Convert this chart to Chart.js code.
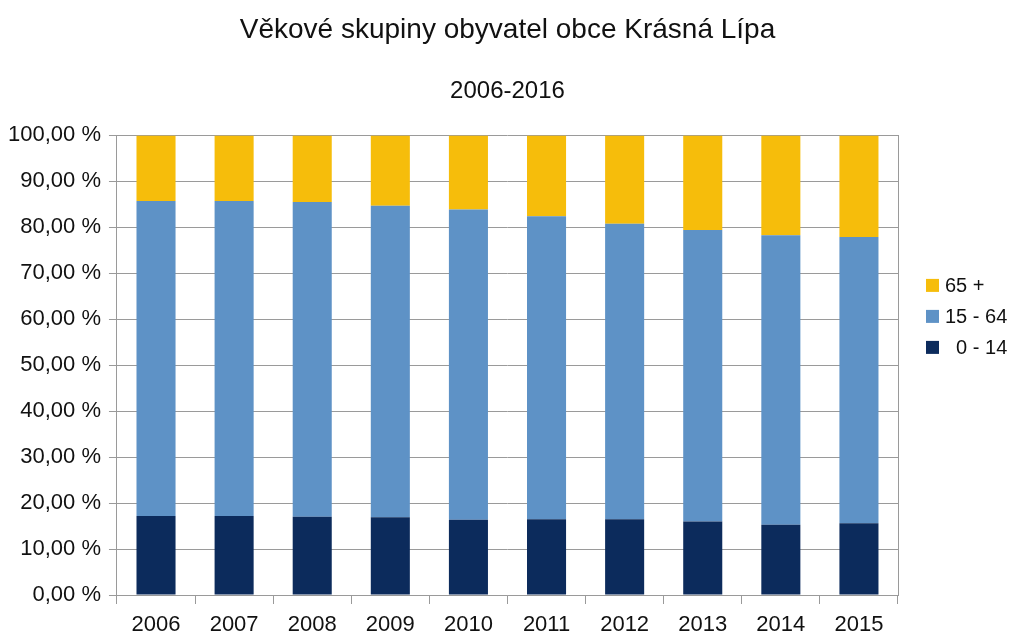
<!DOCTYPE html>
<html>
<head>
<meta charset="utf-8">
<script src="https://cdn.jsdelivr.net/npm/chart.js@4"></script>
<style>
  html, body { margin: 0; padding: 0; background: #fff; }
  #wrap { width: 1015px; height: 634px; }
</style>
</head>
<body>
<div id="wrap"><canvas id="myChart"></canvas></div>
<script>
const roky = ['2006', '2007', '2008', '2009', '2010', '2011', '2012', '2013', '2014', '2015']
const deti = [17.2, 17.2, 17.0, 16.9, 16.4, 16.5, 16.5, 16.0, 15.3, 15.6]
const produktivni = [68.5, 68.5, 68.5, 67.8, 67.5, 65.9, 64.3, 63.4, 63.0, 62.3]
const seniori = [14.3, 14.3, 14.5, 15.3, 16.1, 17.6, 19.2, 20.6, 21.7, 22.1]
const yPopisky = ['0,00 %', '10,00 %', '20,00 %', '30,00 %', '40,00 %', '50,00 %',
    '60,00 %', '70,00 %', '80,00 %', '90,00 %', '100,00 %']

const seda = '#9a9a9a'
const font = 'Liberation Sans, Arial, sans-serif'

// legenda vpravo, kreslena rucne kvuli pozici
const legenda = {
    id: 'legenda',
    afterDraw(chart) {
        const ctx = chart.ctx
        const area = chart.chartArea
        const x = area.right + 28
        let y = area.top + 150
        ctx.save()
        ctx.font = '20px ' + font
        ctx.textBaseline = 'middle'
        chart.data.datasets.slice().reverse().forEach(ds => {
            ctx.fillStyle = ds.backgroundColor
            ctx.fillRect(x, y - 6.5, 13, 13)
            ctx.fillStyle = '#111'
            ctx.fillText(ds.label, x + 19, y + 1)
            y += 31
        })
        ctx.restore()
    }
}

const ctx = document.querySelector('#myChart').getContext('2d')

new Chart(ctx, {
    type: 'bar',
    data: {
        labels: roky,
        datasets: [
            { label: '  0 - 14', data: deti, backgroundColor: '#0c2b5c' },
            { label: '15 - 64', data: produktivni, backgroundColor: '#5e92c6' },
            { label: '65 +', data: seniori, backgroundColor: '#f6bd0b' },
        ],
    },
    options: {
        responsive: true,
        maintainAspectRatio: false,
        animation: false,
        layout: { padding: { left: 0, right: 0, top: 0, bottom: -12 } },
        datasets: {
            bar: { barPercentage: 0.5, categoryPercentage: 1 }
        },
        plugins: {
            legend: { display: false },
            tooltip: { enabled: false },
            title: {
                display: true,
                text: 'Věkové skupiny obyvatel obce Krásná Lípa',
                color: '#111',
                font: { family: font, size: 28, weight: 'normal' },
                padding: { top: 13, bottom: 9 },
            },
            subtitle: {
                display: true,
                text: '2006-2016',
                color: '#111',
                font: { family: font, size: 24, weight: 'normal' },
                padding: { top: 21, bottom: 30 },
            },
        },
        scales: {
            x: {
                stacked: true,
                grid: {
                    offset: true,
                    drawOnChartArea: false,
                    tickColor: seda,
                    tickLength: 9,
                },
                border: { display: true, color: seda },
                ticks: {
                    color: '#111',
                    font: { family: font, size: 22, lineHeight: 1 },
                    padding: 10,
                    maxRotation: 0,
                },
            },
            y: {
                stacked: true,
                min: 0,
                max: 100,
                grid: { color: seda, tickLength: 8 },
                border: { display: true, color: seda },
                ticks: {
                    stepSize: 10,
                    color: '#111',
                    font: { family: font, size: 22 },
                    padding: 8,
                    callback: (v, i) => yPopisky[i],
                },
            },
            // prava hrana grafu a misto pro legendu
            okraj: {
                position: 'right',
                min: 0,
                max: 100,
                grid: { drawOnChartArea: false, drawTicks: false },
                border: { display: true, color: seda },
                ticks: { display: false },
                afterFit: s => { s.width = 117 },
            },
        },
    },
    plugins: [legenda],
})
</script>
</body>
</html>
